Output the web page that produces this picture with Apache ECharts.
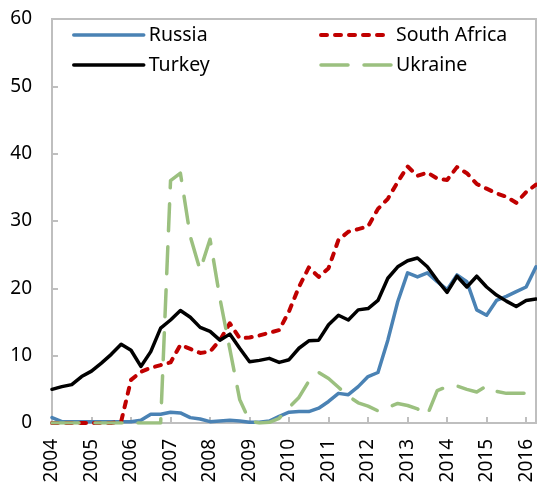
<!DOCTYPE html>
<html>
<head>
<meta charset="utf-8">
<script src="https://cdn.jsdelivr.net/npm/echarts@6/dist/echarts.min.js"></script>
<style>
  html, body { margin: 0; padding: 0; background: #fff; }
  #main { width: 537px; height: 485px; }
</style>
</head>
<body>
<div id="main"></div>
<script>
(function (echarts) {
  'use strict';

  // quarterly observations, 2004 Q1 .. 2016 Q2
  var years = [2004, 2005, 2006, 2007, 2008, 2009, 2010, 2011, 2012, 2013, 2014, 2015, 2016];
  var quarters = ['Q1', 'Q2', 'Q3', 'Q4'];
  var numPoints = 50;

  var russia = [
    0.8, 0.2, 0.2, 0.2, 0.2, 0.2, 0.2, 0.2,
    0.2, 0.4, 1.3, 1.3, 1.6, 1.5, 0.8, 0.6,
    0.2, 0.3, 0.4, 0.3, 0.1, 0.1, 0.3, 1.0,
    1.6, 1.7, 1.7, 2.2, 3.2, 4.4, 4.2, 5.4,
    6.9, 7.5, 12.3, 18.0, 22.3, 21.7, 22.3, 21.0,
    19.8, 22.0, 21.0, 16.8, 16.0, 18.2, 18.8, 19.5,
    20.2, 23.2
  ];
  var southAfrica = [
    0, 0, 0, 0, 0, 0, 0, 0.2,
    6.4, 7.6, 8.2, 8.6, 9.0, 11.6, 11.0, 10.4,
    10.6, 12.3, 14.8, 12.6, 12.7, 13.0, 13.4, 13.8,
    16.6, 20.2, 23.1, 21.7, 23.0, 27.2, 28.4, 28.8,
    29.2, 31.8, 33.3, 35.8, 38.1, 36.7, 37.2, 36.3,
    36.1, 38.0, 37.1, 35.5, 34.8, 34.1, 33.6, 32.7,
    34.3, 35.4
  ];
  var turkey = [
    5.0, 5.4, 5.7, 6.9, 7.7, 8.9, 10.2, 11.7,
    10.8, 8.4, 10.6, 14.1, 15.3, 16.7, 15.7, 14.2,
    13.6, 12.3, 13.2, 11.1, 9.1, 9.3, 9.6, 9.0,
    9.4, 11.1, 12.2, 12.3, 14.6, 16.0, 15.3, 16.8,
    17.0, 18.2, 21.5, 23.2, 24.1, 24.5, 23.2, 21.2,
    19.4, 21.8, 20.2, 21.8, 20.2, 19.0, 18.1, 17.3,
    18.2, 18.4
  ];
  var ukraine = [
    0, 0, 0, 0, 0, 0, 0, 0,
    0, 0, 0, 0, 36.0, 37.1, 27.7, 22.7,
    27.3, 18.5, 11.0, 3.5, 0.3, 0, 0.1, 0.7,
    2.3, 3.8, 6.2, 7.5, 6.6, 5.3, 4.0, 3.0,
    2.5, 1.8, 2.3, 2.9, 2.6, 2.1, 1.2, 4.8,
    5.4, 5.5, 5.0, 4.6, 5.5, 4.7, 4.4, 4.4,
    4.4, 4.0
  ];

  var categories = [];
  years.forEach(function (y) {
    quarters.forEach(function (q) { categories.push(y + ' ' + q); });
  });
  categories = categories.slice(0, numPoints);

  var FONT = 'Noto Sans';
  var AXIS_GREY = '#bfbfbf';

  function line(name, data, color, dash, width) {
    return {
      name: name,
      type: 'line',
      data: data,
      symbol: 'none',
      smooth: false,
      lineStyle: {color: color, width: width || 3.5, type: dash || 'solid', cap: 'round', join: 'round'},
      itemStyle: {color: color},
      emphasis: {disabled: true}
    };
  }

  var legendBase = {
    orient: 'vertical',
    top: 25,
    padding: 0,
    itemWidth: 70,
    itemHeight: 14,
    itemGap: 10,
    selectedMode: false,
    itemStyle: {opacity: 0},
    lineStyle: {width: 'inherit'},
    textStyle: {fontFamily: FONT, fontSize: 19.5, color: '#000', lineHeight: 20}
  };

  echarts.init(document.getElementById('main')).setOption({
    animation: false,
    backgroundColor: '#fff',
    legend: [
      Object.assign({}, legendBase, {left: 72, data: ['Russia', 'Turkey']}),
      Object.assign({}, legendBase, {left: 319, data: ['South Africa', 'Ukraine']})
    ],
    grid: {
      left: 52, right: 1, top: 19, bottom: 62,
      show: true, borderColor: AXIS_GREY, borderWidth: 2,
      outerBoundsMode: 'none'
    },
    xAxis: {
      type: 'category',
      data: categories,
      boundaryGap: false,
      axisLine: {lineStyle: {color: AXIS_GREY, width: 2}},
      axisTick: {inside: true, length: 6, interval: 3, lineStyle: {color: AXIS_GREY, width: 2}},
      axisLabel: {
        interval: 3,
        rotate: 90,
        margin: 16,
        fontFamily: FONT,
        fontSize: 19,
        color: '#000',
        formatter: function (v) { return v.split(' ')[0]; }
      },
      splitLine: {show: false}
    },
    yAxis: {
      type: 'value',
      min: 0,
      max: 60,
      interval: 10,
      axisLine: {show: true, lineStyle: {color: AXIS_GREY, width: 2}},
      axisTick: {show: true, inside: true, length: 6, lineStyle: {color: AXIS_GREY, width: 2}},
      axisLabel: {margin: 20, fontFamily: FONT, fontSize: 19, color: '#000'},
      splitLine: {show: false}
    },
    series: [
      line('Russia', russia, '#4a82b4'),
      line('South Africa', southAfrica, '#c00000', [6, 8], 4),
      line('Turkey', turkey, '#000000'),
      line('Ukraine', ukraine, '#9bc07f', [27, 16])
    ]
  });
})(window.echarts);
</script>
</body>
</html>
